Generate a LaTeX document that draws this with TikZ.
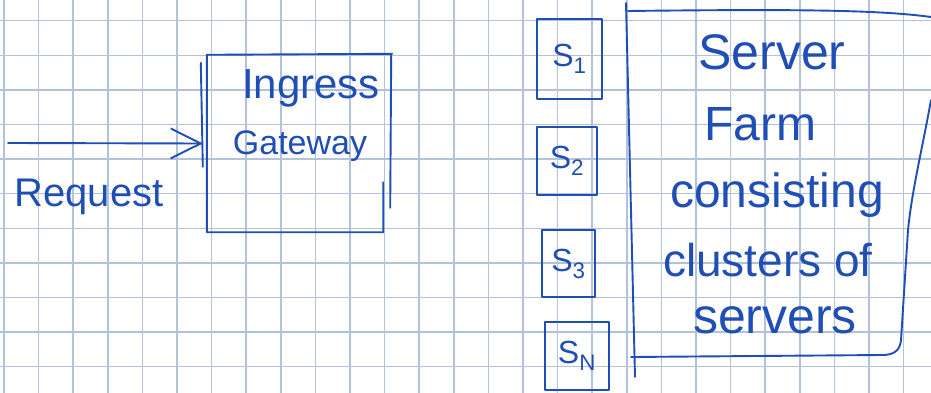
\documentclass[tikz,border=0pt]{standalone}
\usepackage{fontspec}
\setmainfont{Liberation Sans}
\usetikzlibrary{arrows.meta,calc}
\definecolor{inkblue}{HTML}{1F4EB4}
\definecolor{gridblue}{HTML}{B2C2DB}
\begin{document}
\begin{tikzpicture}[x=1pt,y=-1pt,
  ink/.style={draw=inkblue,line width=1.9pt,line cap=round,line join=round},
  gridline/.style={draw=gridblue,line width=1.5pt},
  hand/.style={text=inkblue,inner sep=0pt},
  srv/.style={ink,rectangle,inner sep=0pt,text=inkblue,font=\fontsize{32}{36}\selectfont},
  ghost/.style={rectangle,inner sep=0pt,draw=none}]
\useasboundingbox (0,0) rectangle (931,393);
\fill[white] (0,0) rectangle (931,393);
\foreach \k in {0,...,26} \draw[gridline] ({4+34.6*\k},0) -- ({4+34.6*\k},393);
\foreach \k in {0,...,10} \draw[gridline] (0,{20.7+34.6*\k}) -- (931,{20.7+34.6*\k});

% Ingress gateway
\node[ghost,minimum width=183pt,minimum height=177pt] (gw) at (298.5,143.5) {};
\draw[ink] ($(gw.south east)+(-7,-50)$) -- ($(gw.south east)+(-7,0)$) -- (gw.south west) -- (gw.north west) -- ($(gw.north east)+(2,-1)$);
\draw[ink] ($(gw.north east)+(1,0)$) -- ($(gw.north east)+(0,153)$);
\draw[ink] ($(gw.north west)+(-6,8)$) -- ($(gw.north west)+(-4,112)$);
\node[hand,font=\fontsize{42}{46}\selectfont] (gwa) at (311,88) {Ingress};
\node[hand,font=\fontsize{34}{38}\selectfont] (gwb) at (300,146) {Gateway};

% request arrow
\coordinate (src) at (8,143);
\draw[ink,-{Straight Barb[length=30pt,width=30pt]}] (src) -- ([xshift=-4pt]gw.west);
\node[hand,font=\fontsize{40}{44}\selectfont] (req) at (89,197) {Request};

% servers
\node[srv,minimum width=65pt,minimum height=80pt] (s1) at (569.5,59) {S\textsubscript{1}};
\node[srv,minimum width=60pt,minimum height=68pt] (s2) at (567,161) {S\textsubscript{2}};
\node[srv,minimum width=53pt,minimum height=67pt] (s3) at (568.5,263.5) {S\textsubscript{3}};
\node[srv,minimum width=64pt,minimum height=68pt] (sn) at (577,356) {S\textsubscript{N}};

% server farm
\node[ghost,minimum width=280pt,minimum height=345pt] (farm) at (768,183.5) {};
\draw[ink] (626,3) -- (635,377);
\draw[ink] (628,11) .. controls (800,9) and (880,10) .. (931,17);
\draw[ink] (931,100) .. controls (922,150) and (912,190) .. (908,230) -- (901,340) .. controls (900,352) and (892,355) .. (882,355) -- (631,357);
\node[hand,font=\fontsize{50}{54}\selectfont] (f1) at (772,52) {Server};
\node[hand,font=\fontsize{48}{52}\selectfont] (f2) at (760,124) {Farm};
\node[hand,font=\fontsize{48}{52}\selectfont] (f3) at (777,195) {consisting};
\node[hand,font=\fontsize{46}{50}\selectfont] (f4) at (768,260) {clusters of};
\node[hand,font=\fontsize{50}{54}\selectfont] (f5) at (775,320) {servers};
\end{tikzpicture}
\end{document}
